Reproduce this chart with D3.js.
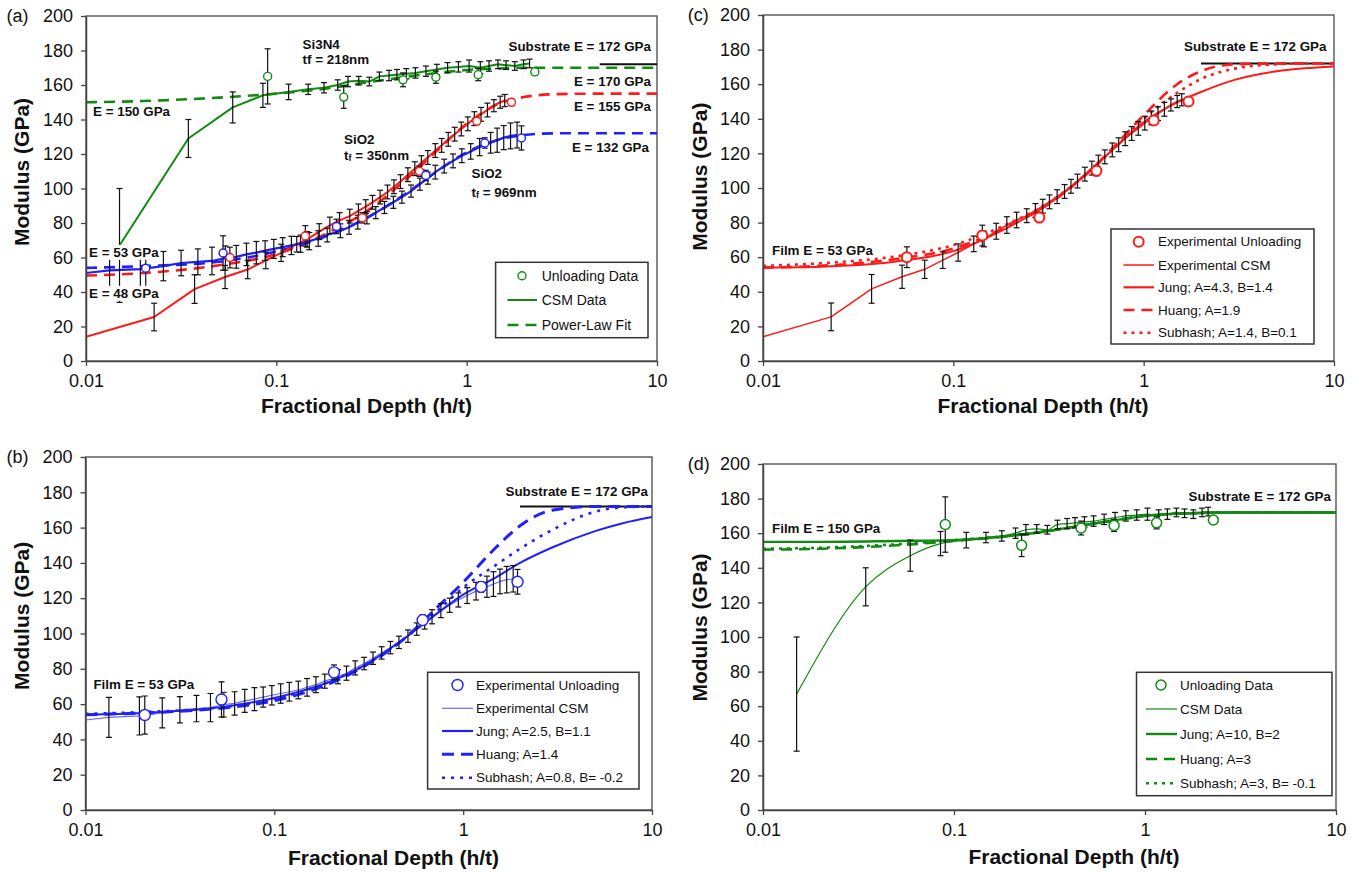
<!DOCTYPE html>
<html><head><meta charset="utf-8">
<script src="https://cdn.jsdelivr.net/npm/d3@7"></script>
<style>
body{margin:0;background:#fff}
svg{display:block}
text{font-family:"Liberation Sans",Arial,Helvetica,sans-serif;fill:#111}
</style></head>
<body><svg id="c" width="1354" height="872"></svg>
<script>
// ---------------- DATA ----------------
const X_TICKS = [0.01, 0.1, 1, 10];
const X_TICK_LABELS = ["0.01", "0.1", "1", "10"];
const Y_TICKS = [0, 20, 40, 60, 80, 100, 120, 140, 160, 180, 200];

// Si3N4 film, tf = 218 nm (green) : CSM data
const si3n4CsmX = [0.015, 0.0345, 0.059, 0.085, 0.116, 0.147, 0.178, 0.21, 0.238, 0.271, 0.308, 0.348, 0.391, 0.43, 0.482, 0.538, 0.611, 0.697, 0.794, 0.905, 1.03, 1.18, 1.31, 1.46, 1.61, 1.79, 1.99, 2.14];
const si3n4CsmE = [67, 129, 147, 154, 156, 157.5, 158.4, 160, 162, 162.5, 162, 165, 165.5, 166, 166.5, 167, 168, 169, 170, 170.5, 171, 170, 171, 172, 171.5, 171, 172, 172.5];
const si3n4CsmErr = [33, 11, 9, 7, 4.5, 3, 3, 3, 3, 2.5, 2.5, 2.5, 3, 3, 3, 3, 3, 3, 3, 3, 3.5, 3.5, 3, 2.5, 2.5, 2.5, 2.5, 2.5];
// Si3N4 unloading data
const si3n4UnlX = [0.09, 0.226, 0.463, 0.689, 1.15, 2.28];
const si3n4UnlE = [165, 153, 163, 164.5, 166, 167.6];
const si3n4UnlErr = [16, 6.5, 4, 3.5, 3.5, 2];

// SiO2 film, tf = 350 nm (red)
const sio2aCsmX = [0.01, 0.0228, 0.0372, 0.0538, 0.0707, 0.088, 0.106, 0.128, 0.145, 0.168, 0.191, 0.215, 0.243, 0.27, 0.295, 0.32, 0.351, 0.384, 0.415, 0.449, 0.491, 0.534, 0.578, 0.625, 0.684, 0.739, 0.8, 0.865, 0.937, 1.014, 1.097, 1.19, 1.285, 1.39, 1.5, 1.585];
const sio2aCsmE = [14, 25.5, 41.7, 48.7, 53, 58.3, 62.7, 67.7, 70.5, 75, 78.6, 81.5, 84, 87, 89.5, 92, 95, 98, 101, 104, 108, 111.5, 115, 118, 122, 125, 128.5, 131.5, 134.5, 137.5, 140.5, 143, 145.5, 148, 150, 151];
const sio2aCsmErr = [0, 8, 8.3, 6.7, 5.3, 4.8, 5, 4.5, 4.5, 4.6, 4.8, 4.5, 4, 4, 4, 4, 4, 4, 4, 4, 4, 4, 4, 4, 4, 4, 4, 4, 4, 4, 4, 4, 4, 3.5, 3.5, 3.5];
const sio2aUnlX = [0.057, 0.142, 0.283, 0.565, 1.13, 1.72];
const sio2aUnlE = [60, 72.5, 83, 110, 139, 150];
const sio2aUnlErr = [6, 6, 3, 3, 2, 2];

// SiO2 film, tf = 969 nm (blue)
const sio2bCsmX = [0.01, 0.0133, 0.0193, 0.0255, 0.0316, 0.0387, 0.0459, 0.054, 0.0616, 0.0697, 0.0785, 0.0873, 0.097, 0.108, 0.12, 0.134, 0.149, 0.166, 0.185, 0.217, 0.241, 0.268, 0.299, 0.333, 0.37, 0.412, 0.457, 0.51, 0.568, 0.625, 0.684, 0.762, 0.848, 0.943, 1.05, 1.17, 1.336, 1.446, 1.566, 1.7, 1.84];
const sio2bCsmE = [51, 52.5, 53.3, 55, 56.8, 57.5, 58, 59.7, 60.4, 61.8, 62.8, 64, 65, 66, 67, 68, 69.5, 71, 73, 75.5, 77.5, 80.5, 83, 86, 89, 92, 95, 98.5, 102.5, 106, 109.5, 113, 116, 119, 121.5, 124, 126.5, 128, 129.5, 130.5, 131];
const sio2bCsmErr = [0, 11.3, 10.8, 8.5, 7.4, 7.5, 8, 7, 6.6, 6.5, 6.5, 5.7, 5.5, 5.5, 5.3, 5, 5, 4.5, 4, 4, 4, 4, 3.5, 3.5, 3.5, 3.5, 3.5, 3.5, 3.5, 3.5, 4, 4, 4, 4, 4.5, 5, 6, 7, 7, 7.5, 7.5];
const sio2bUnlX = [0.0206, 0.0525, 0.207, 0.61, 1.245, 1.94];
const sio2bUnlE = [53.8, 62.6, 78, 107.6, 126.4, 129.3];
const sio2bUnlErr = [10.8, 10, 4.2, 3, 3, 7];

// Panel (a) power-law fits
const fitX = [0.01, 0.02, 0.05, 0.1, 0.2, 0.3, 0.5, 0.7, 1, 1.5, 2, 3, 5, 10];
const fitSi3n4 = [150, 150.7, 152.7, 155, 158.5, 161.5, 165, 167, 168.7, 169.6, 170, 170, 170, 170];
const fitSio2a = [49.5, 51, 55.5, 62, 76, 87, 107, 122, 137.5, 149.5, 153, 154.7, 155, 155];
const fitSio2b = [54, 55, 57.5, 63.5, 74, 83, 98.5, 110, 121, 128.5, 131, 132, 132, 132];

// Substrate modulus line
const substrateE = 172;
const substrateXa = [5, 10];
const substrateXbcd = [2, 10];

// Model curves (b), (c), (d)
const modelX = [0.01, 0.02, 0.05, 0.1, 0.2, 0.3, 0.5, 0.7, 1, 1.5, 2, 3, 5, 7, 10];
const jungB    = [54, 55, 58, 63.5, 73, 82, 98, 110, 122, 132, 140, 149, 158, 162.5, 166];
const huangB   = [54, 55, 57.5, 62, 72, 81.5, 98, 113, 129, 149, 161, 170, 172, 172, 172];
const subhashB = [54.5, 55.5, 58, 63, 73, 82, 98, 111, 126, 139, 148, 159, 169, 171.5, 172];
const jungC    = [54, 54.5, 57.5, 63.5, 78, 89, 108, 123, 138, 149.5, 155.5, 162.5, 167.5, 169.2, 170.3];
const huangC   = [54, 55, 59, 65, 78.5, 89, 108, 124, 142, 160, 167.5, 171.5, 172, 172, 172];
const subhashC = [55, 56.5, 60.5, 67, 80, 90, 108, 123, 140, 155, 163, 169, 171.5, 172, 172];
const jungD    = [155, 155, 155.5, 156, 158.5, 161, 165, 167.5, 170, 171.3, 171.7, 172, 172, 172, 172];
const huangD   = [150.5, 151, 153, 155.5, 158.5, 161, 165, 167.5, 170, 171.3, 171.7, 172, 172, 172, 172];
const subhashD = [151, 151.6, 153.6, 156, 158.7, 161.2, 165, 167.5, 170, 171.3, 171.7, 172, 172, 172, 172];

// Legend labels
const legendA = ["Unloading Data", "CSM Data", "Power-Law Fit"];
const legendB = ["Experimental Unloading", "Experimental CSM", "Jung; A=2.5, B=1.1", "Huang; A=1.4", "Subhash; A=0.8, B= -0.2"];
const legendC = ["Experimental Unloading", "Experimental CSM", "Jung; A=4.3, B=1.4", "Huang; A=1.9", "Subhash; A=1.4, B=0.1"];
const legendD = ["Unloading Data", "CSM Data", "Jung; A=10, B=2", "Huang; A=3", "Subhash; A=3, B= -0.1"];

// ---------------- DRAWING ----------------
const RED = "#ff1a1a", BLUE = "#2020ff", LBLUE = "#6a6aff", GREEN = "#118a11";
const svg = d3.select("#c");
const defs = svg.append("defs");

function makePanel(cfg) {
  const x = d3.scaleLog().domain([0.01, 10]).range([cfg.l, cfg.r]);
  const y = d3.scaleLinear().domain([0, 200]).range([cfg.b, cfg.t]);
  const g = svg.append("g");
  defs.append("clipPath").attr("id", "clip-" + cfg.id).append("rect")
    .attr("x", cfg.l).attr("y", cfg.t).attr("width", cfg.r - cfg.l).attr("height", cfg.b - cfg.t);
  g.append("rect").attr("x", cfg.l).attr("y", cfg.t).attr("width", cfg.r - cfg.l).attr("height", cfg.b - cfg.t)
    .attr("fill", "none").attr("stroke", "#555").attr("stroke-width", 1.4);
  const plot = g.append("g").attr("clip-path", `url(#clip-${cfg.id})`);
  const xa = g.append("g").attr("transform", `translate(0,${cfg.b})`)
    .call(d3.axisBottom(x).tickValues(X_TICKS).tickFormat((d, i) => X_TICK_LABELS[i]).tickSize(5).tickSizeOuter(0).tickPadding(8));
  const ya = g.append("g").attr("transform", `translate(${cfg.l},0)`)
    .call(d3.axisLeft(y).tickValues(Y_TICKS).tickFormat(d3.format("d")).tickSize(5).tickSizeOuter(0).tickPadding(8));
  [xa, ya].forEach(a => {
    a.select(".domain").attr("stroke", "#444").attr("stroke-width", 1.5);
    a.selectAll(".tick line").attr("stroke", "#444").attr("stroke-width", 1.3);
    a.selectAll("text").attr("font-size", 18).attr("fill", "#111")
      .style("font-family", '"Liberation Sans",Arial,sans-serif');
  });
  g.append("text").attr("x", cfg.tagX).attr("y", cfg.t).attr("dominant-baseline", "central")
    .attr("font-size", 18).text(cfg.tag);
  g.append("text").attr("x", cfg.xtX).attr("y", cfg.xtY).attr("text-anchor", "middle")
    .attr("dominant-baseline", "central").attr("font-size", 21).attr("font-weight", "bold")
    .text("Fractional Depth (h/t)");
  g.append("text").attr("transform", `translate(${cfg.ytX},${cfg.ytY}) rotate(-90)`)
    .attr("text-anchor", "middle").attr("dominant-baseline", "central")
    .attr("font-size", 21).attr("font-weight", "bold").text("Modulus (GPa)");
  return { x, y, g, plot, over: g.append("g") };
}

function drawLine(p, xs, ys, st) {
  const pts = xs.map((v, i) => [v, ys[i]]);
  const gen = d3.line().x(d => p.x(d[0])).y(d => p.y(d[1])).curve(st.curve || d3.curveLinear);
  p.plot.append("path").datum(pts).attr("d", gen).attr("fill", "none")
    .attr("stroke", st.color).attr("stroke-width", st.w)
    .attr("stroke-dasharray", st.dash || null).attr("stroke-linejoin", "round");
}
function drawBars(p, xs, ys, es) {
  const data = xs.map((v, i) => ({ x: v, y: ys[i], e: es[i] })).filter(d => d.e > 0);
  const gb = p.plot.append("g").attr("stroke", "#111").attr("stroke-width", 1.2);
  data.forEach(d => {
    const cx = p.x(d.x), y1 = p.y(d.y - d.e), y2 = p.y(d.y + d.e);
    gb.append("line").attr("x1", cx).attr("x2", cx).attr("y1", y1).attr("y2", y2);
    gb.append("line").attr("x1", cx - 3).attr("x2", cx + 3).attr("y1", y1).attr("y2", y1);
    gb.append("line").attr("x1", cx - 3).attr("x2", cx + 3).attr("y1", y2).attr("y2", y2);
  });
}
function drawCircles(p, xs, ys, color, r, w) {
  p.plot.append("g").selectAll("circle").data(xs.map((v, i) => [v, ys[i]])).join("circle")
    .attr("cx", d => p.x(d[0])).attr("cy", d => p.y(d[1])).attr("r", r)
    .attr("fill", "#fff").attr("stroke", color).attr("stroke-width", w);
}
function annotate(p, t, x, y, anchor, bg, sub) {
  const txt = p.over.append("text").attr("x", x).attr("y", y).attr("text-anchor", anchor || "start")
    .attr("dominant-baseline", "central").attr("font-size", 13.4).attr("font-weight", "bold");
  if (sub) {
    txt.append("tspan").text(t[0]);
    txt.append("tspan").attr("font-size", 9).attr("dy", 3).text(t[1]);
    txt.append("tspan").attr("dy", -3).text(t[2]);
  } else txt.text(t);
  if (bg) {
    const bb = txt.node().getBBox();
    p.over.insert("rect", () => txt.node()).attr("x", bb.x - 1).attr("y", bb.y).attr("width", bb.width + 2)
      .attr("height", bb.height).attr("fill", "#fff");
  }
}
function legend(p, L, items) {
  p.over.append("rect").attr("x", L.x).attr("y", L.y).attr("width", L.w).attr("height", L.h)
    .attr("fill", "#fff").attr("stroke", "#333").attr("stroke-width", 1.5);
  items.forEach((it, i) => {
    const yy = L.rows[i];
    if (it.type === "circle") {
      p.over.append("circle").attr("cx", L.cx).attr("cy", yy).attr("r", it.r).attr("fill", "#fff")
        .attr("stroke", it.color).attr("stroke-width", it.w);
    } else {
      p.over.append("line").attr("x1", L.x1).attr("x2", L.x2).attr("y1", yy).attr("y2", yy)
        .attr("stroke", it.color).attr("stroke-width", it.w).attr("stroke-dasharray", it.dash || null);
    }
    p.over.append("text").attr("x", L.tx).attr("y", yy).attr("dominant-baseline", "central")
      .attr("font-size", L.fs).text(it.label);
  });
}

const MONO = d3.curveMonotoneX;

// ----- Panel (a) -----
const pa = makePanel({ id: "a", l: 86, r: 657, t: 16, b: 361, tag: "(a)", tagX: 6.6, xtX: 366.5, xtY: 405, ytX: 21, ytY: 172 });
drawLine(pa, substrateXa, substrateXa.map(() => substrateE), { color: "#111", w: 2 });
drawLine(pa, fitX, fitSi3n4, { color: GREEN, w: 2.6, dash: "11,7", curve: MONO });
drawLine(pa, fitX, fitSio2a, { color: RED, w: 2.6, dash: "11,7", curve: MONO });
drawLine(pa, fitX, fitSio2b, { color: BLUE, w: 2.6, dash: "11,7", curve: MONO });
drawLine(pa, si3n4CsmX, si3n4CsmE, { color: GREEN, w: 2 });
drawLine(pa, sio2aCsmX, sio2aCsmE, { color: RED, w: 2 });
drawLine(pa, sio2bCsmX, sio2bCsmE, { color: BLUE, w: 2.2 });
drawBars(pa, si3n4CsmX, si3n4CsmE, si3n4CsmErr);
drawBars(pa, sio2aCsmX, sio2aCsmE, sio2aCsmErr);
drawBars(pa, sio2bCsmX, sio2bCsmE, sio2bCsmErr);
drawBars(pa, si3n4UnlX, si3n4UnlE, si3n4UnlErr);
drawBars(pa, sio2aUnlX, sio2aUnlE, sio2aUnlErr);
drawBars(pa, sio2bUnlX, sio2bUnlE, sio2bUnlErr);
drawCircles(pa, si3n4UnlX, si3n4UnlE, GREEN, 4, 1.4);
drawCircles(pa, sio2aUnlX, sio2aUnlE, RED, 4, 1.4);
drawCircles(pa, sio2bUnlX, sio2bUnlE, BLUE, 4, 1.4);
annotate(pa, "Si3N4", 302.6, 44);
annotate(pa, "tf = 218nm", 302.6, 59.5);
annotate(pa, "Substrate E = 172 GPa", 651, 46, "end");
annotate(pa, "E = 170 GPa", 651, 81.7, "end");
annotate(pa, "E = 155 GPa", 651, 106, "end");
annotate(pa, "E = 132 GPa", 649, 147.7, "end");
annotate(pa, "E = 150 GPa", 93, 111.7, "start");
annotate(pa, "SiO2", 344, 139.3);
annotate(pa, ["t", "f", " = 350nm"], 344, 154.5, "start", false, true);
annotate(pa, "SiO2", 471.5, 173.3);
annotate(pa, ["t", "f", " = 969nm"], 471.5, 191.7, "start", false, true);
annotate(pa, "E = 53 GPa", 89, 252.3, "start", true);
annotate(pa, "E = 48 GPa", 89, 293.3, "start", true);
legend(pa, { x: 495.6, y: 262.3, w: 152.4, h: 75.4, rows: [275.7, 300, 325], cx: 522, x1: 507.5, x2: 537, tx: 541.7, fs: 14 }, [
  { type: "circle", color: GREEN, r: 4, w: 1.4, label: legendA[0] },
  { type: "line", color: GREEN, w: 2, label: legendA[1] },
  { type: "line", color: GREEN, w: 2.6, dash: "11,7", label: legendA[2] }
]);

// ----- Panel (c) -----
const pc = makePanel({ id: "c", l: 763, r: 1334, t: 15, b: 361, tag: "(c)", tagX: 687.8, xtX: 1043, xtY: 405, ytX: 699.6, ytY: 176.7 });
drawLine(pc, substrateXbcd, substrateXbcd.map(() => substrateE), { color: "#111", w: 2 });
drawLine(pc, sio2aCsmX, sio2aCsmE, { color: RED, w: 1.5 });
drawLine(pc, modelX, jungC, { color: RED, w: 2, curve: MONO });
drawLine(pc, modelX, huangC, { color: RED, w: 2.6, dash: "11,7", curve: MONO });
drawLine(pc, modelX, subhashC, { color: RED, w: 2.6, dash: "3,5", curve: MONO });
drawBars(pc, sio2aCsmX, sio2aCsmE, sio2aCsmErr);
drawBars(pc, sio2aUnlX, sio2aUnlE, sio2aUnlErr);
drawCircles(pc, sio2aUnlX, sio2aUnlE, RED, 5, 2);
annotate(pc, "Substrate E = 172 GPa", 1326.5, 46.7, "end");
annotate(pc, "Film E = 53 GPa", 772, 250, "start");
legend(pc, { x: 1111, y: 229, w: 203, h: 115, rows: [241.7, 265, 287.3, 310, 332.7], cx: 1138.7, x1: 1123.5, x2: 1154, tx: 1158, fs: 13.5 }, [
  { type: "circle", color: RED, r: 5, w: 2, label: legendC[0] },
  { type: "line", color: RED, w: 1.5, label: legendC[1] },
  { type: "line", color: RED, w: 2.2, label: legendC[2] },
  { type: "line", color: RED, w: 2.6, dash: "11,7", label: legendC[3] },
  { type: "line", color: RED, w: 2.6, dash: "3,5", label: legendC[4] }
]);

// ----- Panel (b) -----
const pb = makePanel({ id: "b", l: 85.5, r: 652, t: 457, b: 810, tag: "(b)", tagX: 6.6, xtX: 393.5, xtY: 857.3, ytX: 21, ytY: 615.8 });
drawLine(pb, substrateXbcd, substrateXbcd.map(() => substrateE), { color: "#111", w: 2 });
drawLine(pb, sio2bCsmX, sio2bCsmE, { color: LBLUE, w: 1.2 });
drawLine(pb, modelX, jungB, { color: BLUE, w: 2, curve: MONO });
drawLine(pb, modelX, huangB, { color: BLUE, w: 3, dash: "12,7", curve: MONO });
drawLine(pb, modelX, subhashB, { color: BLUE, w: 2.6, dash: "3,6", curve: MONO });
drawBars(pb, sio2bCsmX, sio2bCsmE, sio2bCsmErr);
drawBars(pb, sio2bUnlX, sio2bUnlE, sio2bUnlErr);
drawCircles(pb, sio2bUnlX, sio2bUnlE, BLUE, 5.5, 1.4);
annotate(pb, "Substrate E = 172 GPa", 648, 491.7, "end");
annotate(pb, "Film E = 53 GPa", 93.4, 684.3, "start");
legend(pb, { x: 427.6, y: 672.3, w: 211.4, h: 116.7, rows: [685, 708.3, 731, 754.3, 777.7], cx: 457.5, x1: 442, x2: 473, tx: 476, fs: 13.5 }, [
  { type: "circle", color: BLUE, r: 5.5, w: 1.4, label: legendB[0] },
  { type: "line", color: LBLUE, w: 1.2, label: legendB[1] },
  { type: "line", color: BLUE, w: 2.2, label: legendB[2] },
  { type: "line", color: BLUE, w: 3, dash: "12,7", label: legendB[3] },
  { type: "line", color: BLUE, w: 2.6, dash: "3,6", label: legendB[4] }
]);

// ----- Panel (d) -----
const pd = makePanel({ id: "d", l: 763, r: 1336, t: 464, b: 810, tag: "(d)", tagX: 687.8, xtX: 1074, xtY: 856.7, ytX: 699.6, ytY: 627.5 });
drawLine(pd, substrateXbcd, substrateXbcd.map(() => substrateE), { color: "#111", w: 2 });
drawLine(pd, si3n4CsmX, si3n4CsmE, { color: GREEN, w: 1.2, curve: MONO });
drawLine(pd, modelX, jungD, { color: GREEN, w: 2.4, curve: MONO });
drawLine(pd, modelX, huangD, { color: GREEN, w: 2.6, dash: "11,7", curve: MONO });
drawLine(pd, modelX, subhashD, { color: GREEN, w: 2.6, dash: "3,5", curve: MONO });
drawBars(pd, si3n4CsmX, si3n4CsmE, si3n4CsmErr);
drawBars(pd, si3n4UnlX, si3n4UnlE, si3n4UnlErr);
drawCircles(pd, si3n4UnlX, si3n4UnlE, GREEN, 5, 1.5);
annotate(pd, "Substrate E = 172 GPa", 1331, 496.7, "end");
annotate(pd, "Film E = 150 GPa", 772, 528.3, "start");
legend(pd, { x: 1136.5, y: 672.3, w: 195.5, h: 123.4, rows: [685, 709, 734, 759, 783.3], cx: 1161, x1: 1146, x2: 1177, tx: 1180, fs: 13.5 }, [
  { type: "circle", color: GREEN, r: 5, w: 1.5, label: legendD[0] },
  { type: "line", color: GREEN, w: 1.2, label: legendD[1] },
  { type: "line", color: GREEN, w: 2.4, label: legendD[2] },
  { type: "line", color: GREEN, w: 2.6, dash: "11,7", label: legendD[3] },
  { type: "line", color: GREEN, w: 2.6, dash: "3,5", label: legendD[4] }
]);
</script></body></html>
